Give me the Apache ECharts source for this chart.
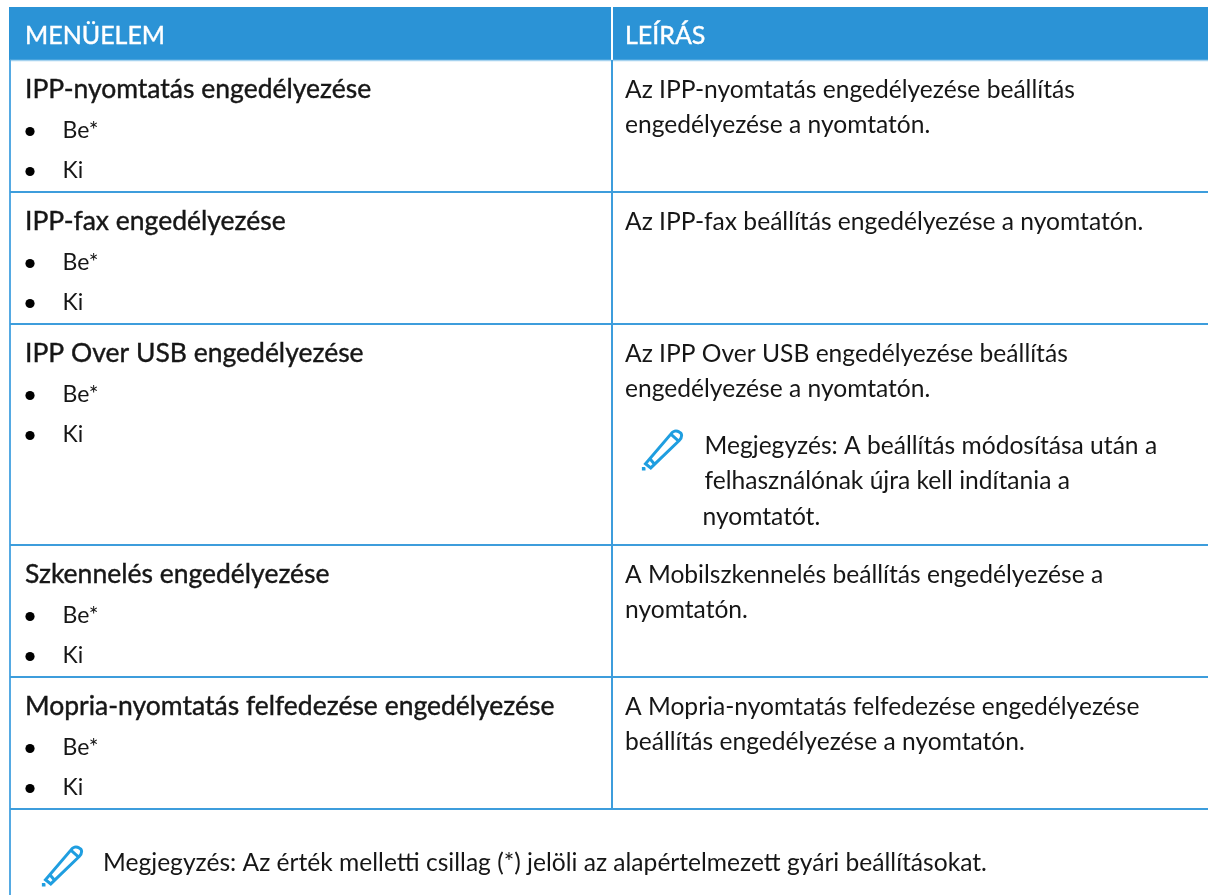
<!DOCTYPE html>
<html>
<head>
<meta charset="utf-8">
<style>
  html, body { margin: 0; padding: 0; background: #fff; }
  #main { width: 1208px; height: 895px; }
</style>
<script src="https://cdn.jsdelivr.net/npm/echarts@6/dist/echarts.min.js"></script>
</head>
<body>
<div id="main"></div>
<script>
const headers = ['MENÜELEM', 'LEÍRÁS'];
const menuItems = [
    'IPP-nyomtatás engedélyezése',
    'IPP-fax engedélyezése',
    'IPP Over USB engedélyezése',
    'Szkennelés engedélyezése',
    'Mopria-nyomtatás felfedezése engedélyezése'
];
const optionValues = ['Be*', 'Ki'];
const descriptions = [
    ['Az IPP-nyomtatás engedélyezése beállítás', 'engedélyezése a nyomtatón.'],
    ['Az IPP-fax beállítás engedélyezése a nyomtatón.'],
    ['Az IPP Over USB engedélyezése beállítás', 'engedélyezése a nyomtatón.'],
    ['A Mobilszkennelés beállítás engedélyezése a', 'nyomtatón.'],
    ['A Mopria-nyomtatás felfedezése engedélyezése', 'beállítás engedélyezése a nyomtatón.']
];
const rowNote = ['Megjegyzés: A beállítás módosítása után a', 'felhasználónak újra kell indítania a', 'nyomtatót.'];
const rowNoteIndex = 2;
const footNote = 'Megjegyzés: Az érték melletti csillag (*) jelöli az alapértelmezett gyári beállításokat.';
const rowEdges = [60, 192, 324, 545, 677, 809];

const FONT = 'Lato, "Noto Sans", sans-serif';
const BLUE = '#2b93d6';
const LINE = '#3d9ddc';
const TEXT = '#161616';
const COL_X = 612;
const LEFT_X = 10;
const BODY_SIZE = 24.6;
const OPTION_SIZE = 23;
const TITLE_SIZE = 26.5;
const PENCIL = 'M3 37 L1 37 L1 35 M3 32 L8 36 L35 10 C38 7 38 3 35 2 C32 0 29 1 27 4 Z M27 4 L35 11 M7 27 L12 33';

const chart = echarts.init(document.getElementById('main'), null, { renderer: 'canvas' });

function text(api, x, baseline, str, size, opts) {
    const p = api.coord([x, baseline]);
    return {
        type: 'text',
        style: Object.assign({
            x: p[0], y: p[1] - size * 0.36,
            text: str, fill: TEXT, verticalAlign: 'middle', align: 'left',
            font: '400 ' + size + 'px ' + FONT
        }, opts || {})
    };
}

function hLine(api, y, x0, x1, color, width) {
    const a = api.coord([x0, y]), b = api.coord([x1, y]);
    return { type: 'line', shape: { x1: a[0], y1: a[1], x2: b[0], y2: b[1] }, style: { stroke: color, lineWidth: width } };
}

function vLine(api, x, y0, y1, color, width) {
    const a = api.coord([x, y0]), b = api.coord([x, y1]);
    return { type: 'line', shape: { x1: a[0], y1: a[1], x2: b[0], y2: b[1] }, style: { stroke: color, lineWidth: width } };
}

function pencil(api, x, y) {
    const p = api.coord([x, y]);
    return {
        type: 'path',
        x: p[0], y: p[1],
        shape: { pathData: PENCIL, layout: 'center', x: 0, y: 0, width: 39, height: 38 },
        style: { stroke: '#1f9ee0', lineWidth: 3, fill: 'none' }
    };
}

function renderRow(params, api) {
    const i = params.dataIndex;
    const top = rowEdges[i];
    const children = [];
    children.push(text(api, 25, top + 38.5, menuItems[i], TITLE_SIZE, { stroke: TEXT, lineWidth: 0.4 }));
    optionValues.forEach((v, k) => {
        const b = top + 78.5 + 40 * k;
        const c = api.coord([30, b - 7]);
        children.push({ type: 'circle', shape: { cx: c[0], cy: c[1], r: 4.6 }, style: { fill: '#000' } });
        children.push(text(api, 62.5, b, v, OPTION_SIZE));
    });
    descriptions[i].forEach((line, k) => {
        children.push(text(api, 625, top + 38.5 + 35 * k, line, BODY_SIZE));
    });
    if (i === rowNoteIndex) {
        children.push(pencil(api, 643, 431));
        rowNote.forEach((line, k) => {
            children.push(text(api, k === 2 ? 702.5 : 704.5, 455 + 35.3 * k, line, BODY_SIZE));
        });
    }
    children.push(hLine(api, rowEdges[i + 1], LEFT_X, 1208, LINE, 2));
    children.push(vLine(api, COL_X, top, rowEdges[i + 1], LINE, 2));
    return { type: 'group', children: children };
}

function renderFrame(params, api) {
    const children = [];
    const a = api.coord([LEFT_X - 1, 7]), b = api.coord([1208, 60]);
    children.push({ type: 'rect', shape: { x: a[0], y: a[1], width: b[0] - a[0], height: b[1] - a[1] }, style: { fill: BLUE } });
    children.push(vLine(api, COL_X, 7, 60, '#ffffff', 2));
    children.push(hLine(api, 60.5, LEFT_X, 1208, '#a5d2ef', 1.5));
    children.push(text(api, 25, 45, headers[0], 25, { fill: '#fff', stroke: '#fff', lineWidth: 0.4 }));
    children.push(text(api, 625, 45, headers[1], 25, { fill: '#fff', stroke: '#fff', lineWidth: 0.4 }));
    children.push(vLine(api, LEFT_X, 60, 895, '#55aae3', 2));
    children.push(pencil(api, 43, 847));
    children.push(text(api, 103, 871.5, footNote, BODY_SIZE));
    return { type: 'group', children: children };
}

chart.setOption({
    animation: false,
    backgroundColor: '#fff',
    grid: { left: 0, right: 0, top: 0, bottom: 0 },
    xAxis: { type: 'value', min: 0, max: 1208, show: false },
    yAxis: { type: 'value', min: 0, max: 895, inverse: true, show: false },
    series: [
        { type: 'custom', coordinateSystem: 'cartesian2d', silent: true, clip: false, encode: { x: 0, y: 1 }, data: [[0, 0]], renderItem: renderFrame },
        { type: 'custom', coordinateSystem: 'cartesian2d', silent: true, clip: false, encode: { x: 0, y: 1 }, data: menuItems.map((m, i) => [LEFT_X, rowEdges[i]]), renderItem: renderRow }
    ]
});
</script>
</body>
</html>
